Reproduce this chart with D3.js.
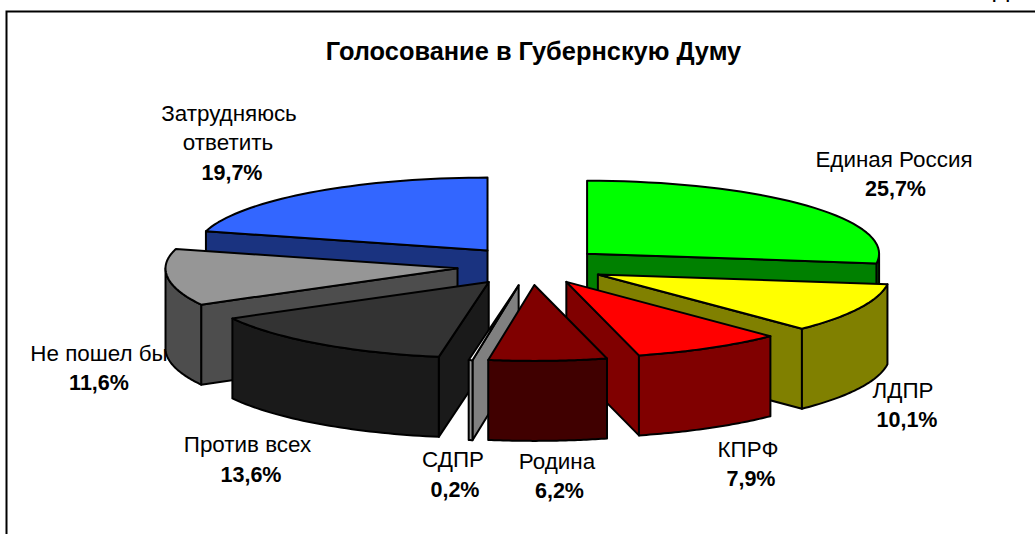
<!DOCTYPE html>
<html><head><meta charset="utf-8">
<style>html,body{margin:0;padding:0;background:#fff}svg{display:block}text{font-family:"Liberation Sans",Arial,sans-serif;fill:#000}</style>
<script src="https://cdn.jsdelivr.net/npm/d3@7"></script>
</head><body><script>
const title = "Голосование в Губернскую Думу";
const categories = ["Единая Россия","ЛДПР","КПРФ","Родина","СДПР","Против всех","Не пошел бы","Затрудняюсь ответить"];
const values = [25.7,10.1,7.9,6.2,0.2,13.6,11.6,19.7];
const valueLabels = ["25,7%","10,1%","7,9%","6,2%","0,2%","13,6%","11,6%","19,7%"];
const explosion = [72,72.5,70,73,75,76,76,75];
const lateralShift = [0,0,-1,-2,-2,0,0,0];
const topColors = ["#00ff00","#ffff00","#ff0000","#800000","#ffffff","#333333","#969696","#3366ff"];
const wallColors = ["#008000","#808000","#800000","#400000","#808080","#1a1a1a","#4d4d4d","#1a3380"];
const arcWallColors = ["#008000","#808000","#800000","#400000","#969696","#1a1a1a","#4d4d4d","#1a3380"];
const labelLayout = [
 {x:[894,895.5],y:[167,196]},{x:[903,907],y:[398,427]},{x:[748,751],y:[457,486]},{x:[557,559.5],y:[469,498]},
 {x:[453,455],y:[467,497]},{x:[247.5,251],y:[452,481.5]},{x:[99,99],y:[361,390]},{x:[229,228,232],y:[121,150,180]}];
const paintOrder = [7,0,6,1,5,2,4,3];
const W=1035,H=534, cx=533, cy=266, R=292, squash=0.26, backFactor=0.96, depth=80;

const svg=d3.select("body").append("svg").attr("width",W).attr("height",H);
const sx=d3.scaleLinear().domain([-1,1]).range([cx-R,cx+R]);
const sy=d3.scaleLinear().domain([-1,1]).range([cy-R*squash,cy+R*squash]);
const pie=d3.pie().sort(null).value(d=>d)(values);

// frame (right and bottom run off the picture)
svg.append("path").attr("d",`M6.5 ${H} V11.5 H${W}`).attr("fill","none").attr("stroke","#000").attr("stroke-width",2);
// clipped letter above the frame
svg.append("text").attr("x",993).attr("y",-3).attr("font-size",24).text("Д");

svg.append("text").attr("x",533.5).attr("y",60).attr("text-anchor","middle")
  .attr("font-size",25.4).attr("font-weight","bold").text(title);

function drawLabel(i){
  const g=svg.append("g");
  const L=labelLayout[i];
  const lines=categories[i]==="Затрудняюсь ответить"?["Затрудняюсь","ответить"]:[categories[i]];
  lines.forEach((t,k)=>g.append("text").attr("x",L.x[k]).attr("y",L.y[k]).attr("text-anchor","middle").attr("font-size",22.4).text(t));
  g.append("text").attr("x",L.x[lines.length]).attr("y",L.y[lines.length]).attr("text-anchor","middle").attr("font-size",21.5).attr("font-weight","bold").text(valueLabels[i]);
}
drawLabel(6);

function slice(i){
  const d=pie[i], a0=d.startAngle, a1=d.endAngle, mid=(a0+a1)/2, e=explosion[i]/R;
  const ox=Math.sin(mid)*e, oy=-Math.cos(mid)*e;
  const P=(a,r=1,z=0)=>{
    const c=Math.cos(a);
    return [sx(ox+r*Math.sin(a))+lateralShift[i], sy(oy-r*c*(c>0?backFactor:1))+z];
  };
  const line=d3.line();
  const arcPts=(s,t,z=0)=>d3.range(0,41).map(k=>P(s+(t-s)*k/40,1,z));
  const g=svg.append("g").attr("stroke","#000").attr("stroke-width",2).attr("stroke-linejoin","round");
  const apex=P(0,0), apexB=P(0,0,depth);
  const radial=(a)=>g.append("path").attr("fill",wallColors[i]).attr("d",line([apex,P(a),P(a,1,depth),apexB])+"Z");
  if(Math.sin(a0)<0) radial(a0);
  if(Math.sin(a1)>0) radial(a1);
  const s=Math.max(a0,Math.PI/2), t=Math.min(a1,3*Math.PI/2);
  if(t>s) g.append("path").attr("fill",arcWallColors[i]).attr("d",line([...arcPts(s,t),...arcPts(s,t,depth).reverse()])+"Z");
  g.append("path").attr("fill",topColors[i]).attr("d",line([apex,...arcPts(a0,a1)])+"Z");
}
paintOrder.forEach(slice);
[0,1,2,3,4,5,7].forEach(drawLabel);
</script></body></html>
